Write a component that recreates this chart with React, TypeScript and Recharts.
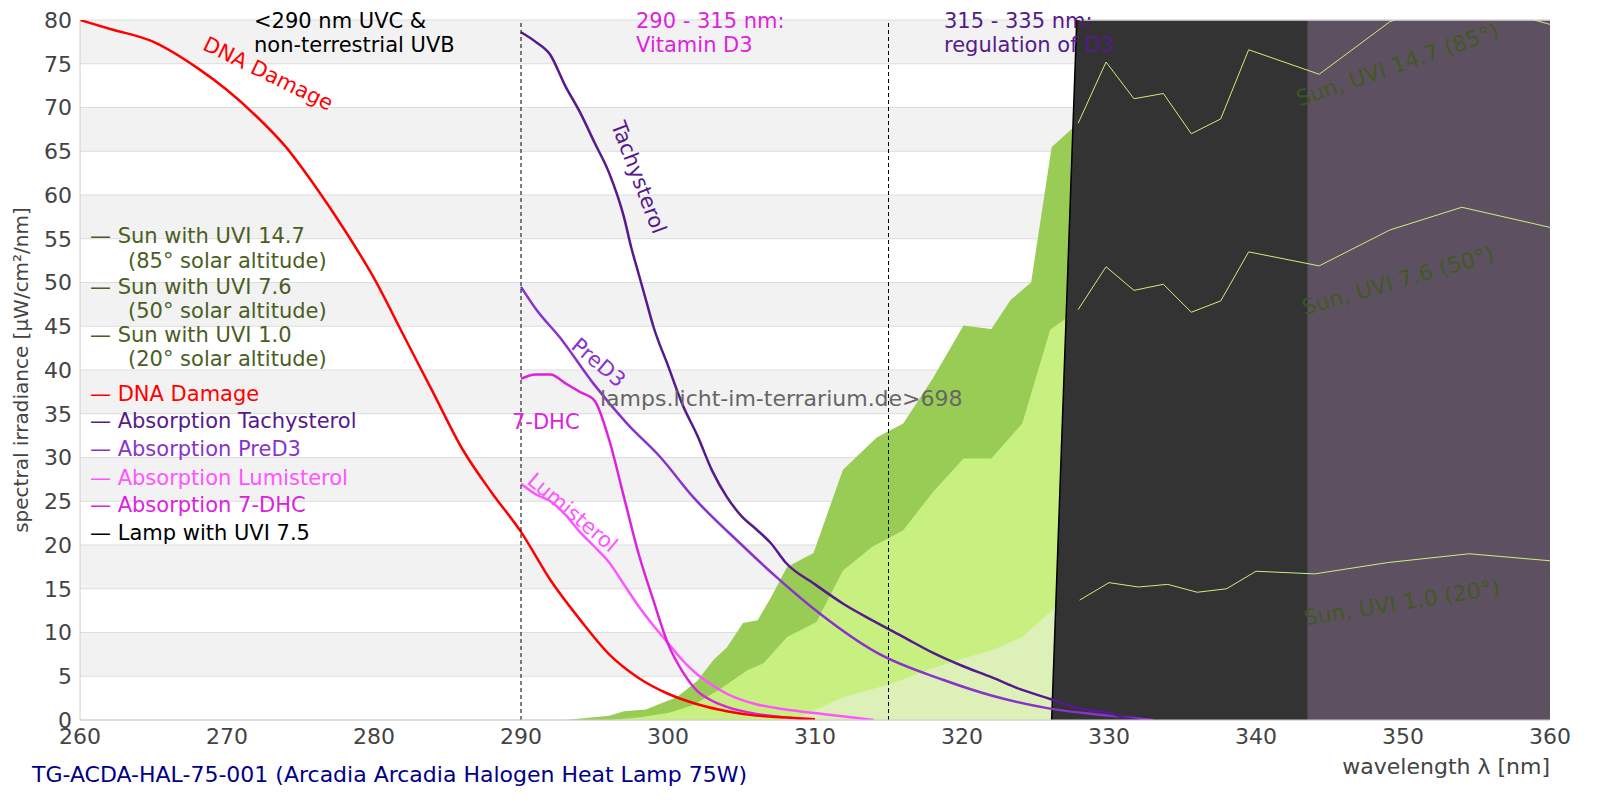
import React from 'react';
import { ComposedChart, Area, Line, XAxis, YAxis, CartesianGrid, ReferenceLine } from 'recharts';

const xTicks = [260, 270, 280, 290, 300, 310, 320, 330, 340, 350, 360];
const yTicks = [0, 5, 10, 15, 20, 25, 30, 35, 40, 45, 50, 55, 60, 65, 70, 75, 80];

const sun147X = [293, 296, 297, 298.5, 299.5, 300.6, 302, 303.1, 304, 305.1, 306.1, 307, 308.1, 309.9, 311.9, 314.2, 316, 318, 320.1, 322, 323.3, 324.7, 326.1, 327.9, 329.8, 331.7, 333.7, 335.6, 337.6, 339.5, 344.3, 349.1, 353.5, 360];
const sun147Y = [0, 0.5, 1, 1.2, 1.9, 2.6, 4.5, 6.9, 8.3, 11.1, 11.4, 14, 17.5, 19.1, 28.6, 32.3, 33.9, 39, 45.1, 44.7, 48, 50, 65.5, 68.2, 75.2, 71, 71.6, 67, 68.7, 76.6, 73.8, 79.8, 82.5, 79.5];
const sun76X = [296, 298, 300, 301.7, 303.5, 305.4, 306.5, 308.1, 310.1, 311.9, 313.9, 316, 318, 320.1, 322, 324.1, 326, 327.9, 329.8, 331.7, 333.7, 335.6, 337.6, 339.5, 344.3, 349.1, 354, 360];
const sun76Y = [0, 0.3, 0.8, 1.7, 3.5, 5.7, 6.5, 9.5, 11.2, 17.1, 19.8, 21.7, 26, 29.9, 29.9, 33.9, 44.6, 46.9, 51.8, 49.1, 49.8, 46.6, 47.9, 53.5, 51.9, 56, 58.6, 56.3];
const sun10X = [308.5, 311.9, 315.3, 317.6, 320, 322.1, 324.1, 326.5, 328, 330, 332, 334, 336, 338, 340, 344, 349, 354.5, 360];
const sun10Y = [0, 2.6, 4.2, 5.7, 7, 8, 9.5, 13.1, 13.7, 15.7, 15.2, 15.5, 14.6, 15, 17, 16.7, 18, 19, 18.2];

const lampX = [326.1, 328, 330, 340, 350, 360];
const lampY = [0, 89, 200, 200, 200, 200];
const lampHighX = [343.5, 350, 360];
const lampHighY = [200, 200, 200];

const dnaX = [260, 262, 265, 268, 270, 272, 274, 276, 278, 280, 282, 284, 286, 288, 290, 292, 294, 296, 298, 300, 302, 304, 306, 308, 310];
const dnaY = [80, 79, 77.5, 74.5, 72, 69, 65.5, 61, 56, 50.5, 44, 37.5, 31, 26, 21.5, 16, 11.5, 7.5, 4.8, 3, 1.8, 1, 0.5, 0.3, 0.1];
const tachyX = [290, 291, 292, 293, 294, 295, 296, 297, 297.5, 298, 298.5, 299, 300, 301, 302, 303, 304, 305, 306, 307, 308, 310, 312, 314, 316, 318, 320, 322, 324, 326, 328, 330, 331, 332];
const tachyY = [78.6, 77.5, 76, 72.5, 69.5, 66, 62.5, 57.5, 54, 51, 48, 45, 40.5, 36, 32.5, 28.5, 25.5, 23.3, 21.8, 20.2, 18, 15.5, 13.2, 11.3, 9.5, 7.7, 6.2, 4.9, 3.5, 2.4, 1.3, 0.8, 0.3, 0];
const preX = [290, 291, 292.7, 294.9, 297.2, 299.5, 301.7, 304.9, 307.4, 310.3, 314.2, 318.7, 322, 326, 330, 333];
const preY = [49.5, 47, 43.6, 38.5, 33.9, 30, 25.5, 20.2, 16.3, 12.2, 7.7, 4.6, 2.8, 1.3, 0.5, 0];
const dhcX = [290, 291, 292, 293, 294, 295, 296, 297, 298, 299, 300, 301, 302, 303, 304, 306, 308, 310];
const dhcY = [39, 39.5, 39.5, 38.5, 37.5, 36.5, 32, 25.5, 19, 13.7, 8.7, 5.5, 3.3, 2.2, 1.5, 0.7, 0.3, 0];
const lumiX = [290, 291, 292, 293, 294, 295, 296, 297, 298, 299, 300, 301, 302, 303, 304, 305, 306, 308, 310, 312, 314];
const lumiY = [27, 25.8, 25, 23.5, 21.5, 19.8, 18, 15.5, 13, 10.8, 8.8, 6.8, 5.2, 4, 3, 2.3, 1.8, 1.2, 0.8, 0.4, 0];

const zip = (xs: number[], ys: number[]) => xs.map((x, i) => ({ x, y: ys[i] }));
const onLamp = (xs: number[], ys: number[]) => zip(xs, ys).filter((d) => d.x >= 327.8);

const legendItems = [
  { t: '— Sun with UVI 14.7', c: '#4a5e23', y: 243, x: 90 },
  { t: '(85° solar altitude)', c: '#4a5e23', y: 268, x: 128 },
  { t: '— Sun with UVI 7.6', c: '#4a5e23', y: 294, x: 90 },
  { t: '(50° solar altitude)', c: '#4a5e23', y: 318, x: 128 },
  { t: '— Sun with UVI 1.0', c: '#4a5e23', y: 342, x: 90 },
  { t: '(20° solar altitude)', c: '#4a5e23', y: 366, x: 128 },
  { t: '— DNA Damage', c: '#ff0000', y: 401, x: 90 },
  { t: '— Absorption Tachysterol', c: '#551a8b', y: 428, x: 90 },
  { t: '— Absorption PreD3', c: '#8833cc', y: 456, x: 90 },
  { t: '— Absorption Lumisterol', c: '#ff55ff', y: 485, x: 90 },
  { t: '— Absorption 7-DHC', c: '#dd22dd', y: 512, x: 90 },
  { t: '— Lamp with UVI 7.5', c: '#000000', y: 540, x: 90 },
];

const font = 'DejaVu Sans, sans-serif';

export default function App() {
  return (
    <div style={{ position: 'fixed', left: 0, top: 0, width: 1600, height: 800, background: '#fff', fontFamily: font }}>
      <ComposedChart width={1600} height={800} margin={{ top: 20, right: 50, bottom: 50, left: 30 }}>
        <CartesianGrid vertical={false} stroke="#dddddd" horizontalFill={['#f2f2f2', '#ffffff']} />
        <XAxis type="number" dataKey="x" domain={[260, 360]} ticks={xTicks} allowDataOverflow height={30}
          tick={{ fontSize: 22, fill: '#444', fontFamily: font }} tickLine={false} axisLine={{ stroke: '#ccc' }} />
        <YAxis type="number" domain={[0, 80]} ticks={yTicks} allowDataOverflow width={50}
          tick={{ fontSize: 22, fill: '#444', fontFamily: font }} tickLine={false} axisLine={{ stroke: '#ccc' }} />
        <Area data={zip(sun147X, sun147Y)} dataKey="y" type="linear" stroke="none" fill="#99cc55" fillOpacity={1} isAnimationActive={false} />
        <Area data={zip(sun76X, sun76Y)} dataKey="y" type="linear" stroke="none" fill="#c8f080" fillOpacity={1} isAnimationActive={false} />
        <Area data={zip(sun10X, sun10Y)} dataKey="y" type="linear" stroke="none" fill="#dcf0b8" fillOpacity={1} isAnimationActive={false} />
        <Area data={zip(lampX, lampY)} dataKey="y" type="linear" stroke="#000" strokeWidth={1.5} fill="#333333" fillOpacity={1} isAnimationActive={false} />
        <Area data={zip(lampHighX, lampHighY)} dataKey="y" type="linear" stroke="none" fill="#5d5161" fillOpacity={1} isAnimationActive={false} />
        <Line data={onLamp(sun147X, sun147Y)} dataKey="y" type="linear" stroke="#c8f07a" strokeWidth={1} dot={false} isAnimationActive={false} />
        <Line data={onLamp(sun76X, sun76Y)} dataKey="y" type="linear" stroke="#c8f07a" strokeWidth={1} dot={false} isAnimationActive={false} />
        <Line data={onLamp(sun10X, sun10Y)} dataKey="y" type="linear" stroke="#c8f07a" strokeWidth={1} dot={false} isAnimationActive={false} />
        <Line data={zip(lumiX, lumiY)} dataKey="y" type="monotone" stroke="#ff55ff" strokeWidth={2.5} dot={false} isAnimationActive={false} />
        <Line data={zip(dhcX, dhcY)} dataKey="y" type="monotone" stroke="#dd22dd" strokeWidth={2.5} dot={false} isAnimationActive={false} />
        <Line data={zip(preX, preY)} dataKey="y" type="monotone" stroke="#8833cc" strokeWidth={2.5} dot={false} isAnimationActive={false} />
        <Line data={zip(tachyX, tachyY)} dataKey="y" type="monotone" stroke="#551a8b" strokeWidth={2.5} dot={false} isAnimationActive={false} />
        <Line data={zip(dnaX, dnaY)} dataKey="y" type="monotone" stroke="#ff0000" strokeWidth={2.5} dot={false} isAnimationActive={false} />
        <ReferenceLine x={290} stroke="#000" strokeDasharray="4 3" />
        <ReferenceLine x={315} stroke="#000" strokeDasharray="4 3" />
        <ReferenceLine segment={[{ x: 328, y: 80 }, { x: 360, y: 80 }]} stroke="#dddddd" strokeWidth={1.5} />
      </ComposedChart>
      <svg width={1600} height={800} style={{ position: 'absolute', left: 0, top: 0, pointerEvents: 'none' }} fontFamily={font}>
        <text x={254} y={28} fontSize={21} fill="#000">&lt;290 nm UVC &amp;</text>
        <text x={254} y={52} fontSize={21} fill="#000">non-terrestrial UVB</text>
        <text x={636} y={28} fontSize={21} fill="#dd22dd">290 - 315 nm:</text>
        <text x={636} y={52} fontSize={21} fill="#dd22dd">Vitamin D3</text>
        <text x={944} y={28} fontSize={21} fill="#551a8b">315 - 335 nm:</text>
        <text x={944} y={52} fontSize={21} fill="#551a8b">regulation of D3</text>
        <text x={600} y={406} fontSize={22} fill="#666">lamps.licht-im-terrarium.de&gt;698</text>
        <text transform="translate(265,80) rotate(26)" textAnchor="middle" fontSize={21} fill="#ff0000">DNA Damage</text>
        <text transform="translate(632,180) rotate(69)" textAnchor="middle" fontSize={21} fill="#551a8b">Tachysterol</text>
        <text transform="translate(594,368) rotate(40)" textAnchor="middle" fontSize={21} fill="#8833cc">PreD3</text>
        <text x={512} y={429} fontSize={21} fill="#dd22dd">7-DHC</text>
        <text transform="translate(568,518) rotate(40)" textAnchor="middle" fontSize={21} fill="#ff55ff">Lumisterol</text>
        <text transform="translate(1400,72) rotate(-19)" textAnchor="middle" fontSize={22} fill="#3d5a1a" fillOpacity={0.9}>Sun, UVI 14.7 (85°)</text>
        <text transform="translate(1400,288) rotate(-16)" textAnchor="middle" fontSize={22} fill="#3d5a1a" fillOpacity={0.9}>Sun, UVI 7.6 (50°)</text>
        <text transform="translate(1403,610) rotate(-9)" textAnchor="middle" fontSize={22} fill="#3d5a1a" fillOpacity={0.9}>Sun, UVI 1.0 (20°)</text>
        {legendItems.map((l) => (
          <text key={l.t} x={l.x} y={l.y} fontSize={21} fill={l.c}>{l.t}</text>
        ))}
        <text transform="translate(28,370) rotate(-90)" textAnchor="middle" fontSize={20} fill="#444">spectral irradiance [µW/cm²/nm]</text>
        <text x={1550} y={774} textAnchor="end" fontSize={22} fill="#444">wavelength λ [nm]</text>
        <text x={32} y={782} fontSize={22} fill="#000088">TG-ACDA-HAL-75-001 (Arcadia Arcadia Halogen Heat Lamp 75W)</text>
      </svg>
    </div>
  );
}
